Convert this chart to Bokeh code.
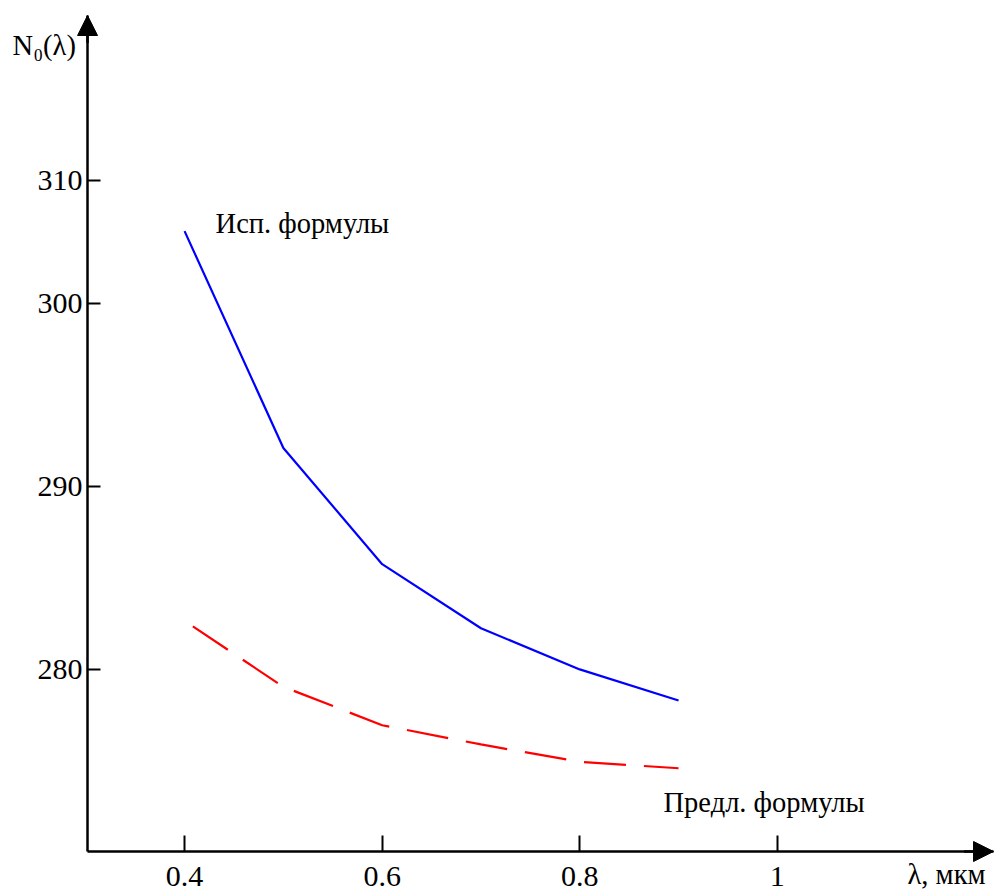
from bokeh.plotting import figure
from bokeh.models import FixedTicker, Label, Arrow, NormalHead, LinearAxis
from bokeh.embed import file_html
from bokeh.resources import INLINE

# ---- data ----
wavelength = [0.4, 0.5, 0.6, 0.7, 0.8, 0.9]
n0_used = [303.95, 292.1, 285.75, 282.25, 280.0, 278.3]      # "Исп. формулы"
n0_proposed = [282.65, 279.05, 276.95, 275.9, 274.95, 274.6]  # "Предл. формулы"

x_ticks = [0.4, 0.6, 0.8, 1.0]
x_tick_labels = ["0.4", "0.6", "0.8", "1"]
y_ticks = [280, 290, 300, 306.72]
y_tick_labels = ["280", "290", "300", "310"]

FONT = "Liberation Serif"
FS = "28.5px"
TICK_FS = "30px"

# axis origin and axis ends (data units)
x_org, y_org = 0.3018, 270.05
x_tip, y_tip = 1.2188, 315.73

p = figure(width=995, height=893, x_range=(0.2137, 1.2208), y_range=(267.755, 316.55),
           output_backend="svg", toolbar_location=None,
           x_axis_location=None, y_axis_location=None,
           min_border=0)
p.outline_line_color = None
p.grid.visible = False
p.background_fill_color = "white"
p.border_fill_color = "white"

xaxis = LinearAxis(fixed_location=y_org, bounds=(x_org, x_tip),
                   ticker=FixedTicker(ticks=x_ticks),
                   major_label_overrides={t: l for t, l in zip(x_ticks, x_tick_labels)})
yaxis = LinearAxis(fixed_location=x_org, bounds=(y_org, y_tip),
                   ticker=FixedTicker(ticks=y_ticks),
                   major_label_overrides={t: l for t, l in zip(y_ticks, y_tick_labels)})
for ax in (xaxis, yaxis):
    ax.axis_line_color = "black"
    ax.axis_line_width = 2.5
    ax.major_tick_line_color = "black"
    ax.major_tick_line_width = 2
    ax.minor_tick_line_color = None
    ax.major_tick_out = 0
    ax.major_label_text_font = FONT
    ax.major_label_text_font_size = TICK_FS
    ax.major_label_text_color = "black"
xaxis.major_tick_in = 16
xaxis.major_label_standoff = 16
yaxis.major_tick_in = 13
yaxis.major_label_standoff = 5
p.add_layout(xaxis, "below")
p.add_layout(yaxis, "left")

# curves
p.line(wavelength, n0_used, line_color="#0000FF", line_width=2.2)
p.line(wavelength, n0_proposed, line_color="#FF0000", line_width=2.2,
       line_dash="42 18", line_dash_offset=50)

# axis arrows
p.add_layout(Arrow(end=NormalHead(size=20, fill_color="black", line_color="black"),
                   x_start=x_tip - 0.03, y_start=y_org, x_end=x_tip, y_end=y_org,
                   line_color="black", line_width=2.5))
p.add_layout(Arrow(end=NormalHead(size=20, fill_color="black", line_color="black"),
                   x_start=x_org, y_start=y_tip - 1.5, x_end=x_org, y_end=y_tip,
                   line_color="black", line_width=2.5))

# texts
p.add_layout(Label(x=0.4314, y=304.37, text="Исп. формулы", text_font=FONT,
                   text_font_size=FS, text_baseline="middle", text_color="black"))
p.add_layout(Label(x=0.8848, y=272.73, text="Предл. формулы", text_font=FONT,
                   text_font_size=FS, text_baseline="middle", text_color="black"))
p.add_layout(Label(x=1.2107, y=268.79, text="λ, мкм", text_font=FONT,
                   text_font_size=FS, text_baseline="middle", text_align="right",
                   text_color="black"))
p.add_layout(Label(x=0.2259, y=314.1, text="N₀(λ)", text_font=FONT,
                   text_font_size=FS, text_baseline="middle", text_color="black"))

open("out.html", "w").write(file_html(p, INLINE))
